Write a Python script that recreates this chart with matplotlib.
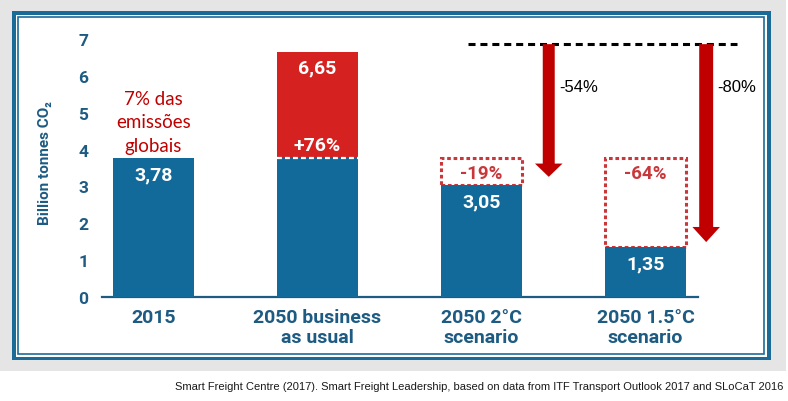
import matplotlib.pyplot as plt
from matplotlib.patches import Rectangle

W, H = 788, 402

# chart data
categories = ["2015", "2050 business\nas usual", "2050 2°C\nscenario", "2050 1.5°C\nscenario"]
base_values = [3.78, 3.78, 3.05, 1.35]        # blue part of each bar
bau_total = 6.65                              # business as usual total
value_labels = ["3,78", "3,78", "3,05", "1,35"]
reference_2015 = 3.78
cut_labels = ["-19%", "-64%"]                 # dashed boxes on the scenario bars
growth_label = "+76%"
drop_labels = ["-54%", "-80%"]
drop_tips = [3.26, 1.49]                      # where the big arrows end
drop_top = 6.86

BLUE = "#126a9a"
RED = "#d52220"
BOX_RED = "#c9373a"
ARROW_RED = "#c00000"
TEXT_BLUE = "#1d5b82"
FRAME = "#1b6b98"

plt.rcParams["font.family"] = ["Roboto", "DejaVu Sans"]


def px(x, y):
    # pixel (from top-left) -> figure fraction
    return x / W, 1 - y / H


def frame_rect(x0, y0, x1, y1, **kw):
    (fx, fy) = px(x0, y1)
    return Rectangle((fx, fy), (x1 - x0) / W, (y1 - y0) / H, transform=fig.transFigure, **kw)


fig = plt.figure(figsize=(W / 100, H / 100), dpi=100)
fig.patch.set_facecolor("white")

# grey page + double blue frame
fig.add_artist(frame_rect(0, 0, 786, 372, facecolor="#e5e5e5", edgecolor="none", zorder=-5))
fig.add_artist(frame_rect(12, 12, 771, 361, facecolor=FRAME, edgecolor="none", zorder=-4))
fig.add_artist(frame_rect(15.5, 15.5, 767, 357.5, facecolor="white", edgecolor="none", zorder=-3))
fig.add_artist(frame_rect(17.5, 17.5, 763.5, 355, facecolor="white", edgecolor=FRAME, lw=1.2, zorder=-2))

# axes placed so that x=0..3 and y=0..7 land where the reference has them
xlim = (-0.6, 3.7)
ylim = (-0.2, 7.3)
x_px = lambda v: 153.5 + 164 * v
y_px = lambda v: 298 - 36.86 * v
left, right = x_px(xlim[0]), x_px(xlim[1])
bottom, top = y_px(ylim[0]), y_px(ylim[1])
ax = fig.add_axes([left / W, 1 - bottom / H, (right - left) / W, (bottom - top) / H])
ax.set_facecolor("none")
ax.set_xlim(*xlim)
ax.set_ylim(*ylim)

x = list(range(len(categories)))
bw = 0.49

# dashed boxes showing the cut from the 2015 level
for i, lab in zip([2, 3], cut_labels):
    ax.bar(x[i], reference_2015 - base_values[i], bottom=base_values[i], width=bw,
           facecolor="none", edgecolor=BOX_RED, linestyle=(0, (1.2, 0.9)), lw=2.2, zorder=2)
    ax.text(x[i], reference_2015 - 0.42, lab, ha="center", va="center",
            color=BOX_RED, fontsize=13.5, fontweight="bold")

# bars
ax.bar(x[1], bau_total - base_values[1], bottom=base_values[1], width=bw, color=RED, zorder=3)
ax.bar(x, base_values, width=bw, color=BLUE, zorder=3)
ax.hlines(base_values[1], x[1] - bw / 2, x[1] + bw / 2, colors="white", lw=1.6,
          linestyles=(0, (2.2, 1.4)), zorder=4)

for xi, v, lab in zip(x, base_values, value_labels):
    if xi == 1:
        continue
    ax.text(xi, v - 0.45, lab, ha="center", va="center", color="white",
            fontsize=14, fontweight="bold", zorder=5)
ax.text(x[1], bau_total - 0.42, "6,65", ha="center", va="center", color="white",
        fontsize=14, fontweight="bold", zorder=5)
ax.text(x[1], base_values[1] + 0.34, growth_label, ha="center", va="center", color="white",
        fontsize=14, fontweight="bold", zorder=5)

ax.text(x[0], 4.75, "7% das\nemissões\nglobais", ha="center", va="center", color=ARROW_RED,
        fontsize=13.5, family="Lato", linespacing=1.45)

# dashed 2050 BAU reference line and reduction arrows
ax.hlines(drop_top, 1.92, 3.56, colors="black", lw=2.2, linestyles=(0, (2.3, 1.6)),
          zorder=4, clip_on=False)
arrow_x = [2.41, 3.37]
shaft_w = [0.073, 0.085]
head_l = [0.36, 0.41]
for ax_x, tip, sw, hl, lab in zip(arrow_x, drop_tips, shaft_w, head_l, drop_labels):
    ax.arrow(ax_x, drop_top, 0, tip - drop_top, width=sw, head_width=0.168, head_length=hl,
             length_includes_head=True, color=ARROW_RED, lw=0, zorder=5, clip_on=False)
    ax.text(ax_x + 0.065, 5.70, lab, ha="left", va="center", fontsize=12,
            family="Liberation Sans", color="black")

# axis styling
for s in ["top", "right"]:
    ax.spines[s].set_visible(False)
ax.spines["left"].set_position(("data", -0.314))
ax.spines["left"].set_color("none")
ax.spines["bottom"].set_position(("data", 0))
ax.spines["bottom"].set_bounds(-0.314, 3.32)
ax.spines["bottom"].set_color(TEXT_BLUE)
ax.spines["bottom"].set_linewidth(1.6)

ax.set_yticks(range(0, 8))
ax.tick_params(axis="y", length=0, pad=10, labelsize=12.5, labelcolor=TEXT_BLUE)
for t in ax.get_yticklabels():
    t.set_fontweight("bold")
ax.set_xticks(x)
ax.set_xticklabels(categories, fontsize=14, fontweight="bold", color=TEXT_BLUE, linespacing=1.1)
ax.tick_params(axis="x", length=0, pad=8)

ax.set_ylabel("Billion tonnes CO₂", fontsize=11, fontweight="bold", color=TEXT_BLUE)
ax.yaxis.set_label_coords(-0.0044, 0.515)

fig.text(783 / W, 1 - 387 / H,
         "Smart Freight Centre (2017). Smart Freight Leadership, based on data from "
         "ITF Transport Outlook 2017 and SLoCaT 2016",
         ha="right", va="center", fontsize=8.0, family="Liberation Sans", color="#1a1a1a")

fig.savefig("out.png", dpi=100)
